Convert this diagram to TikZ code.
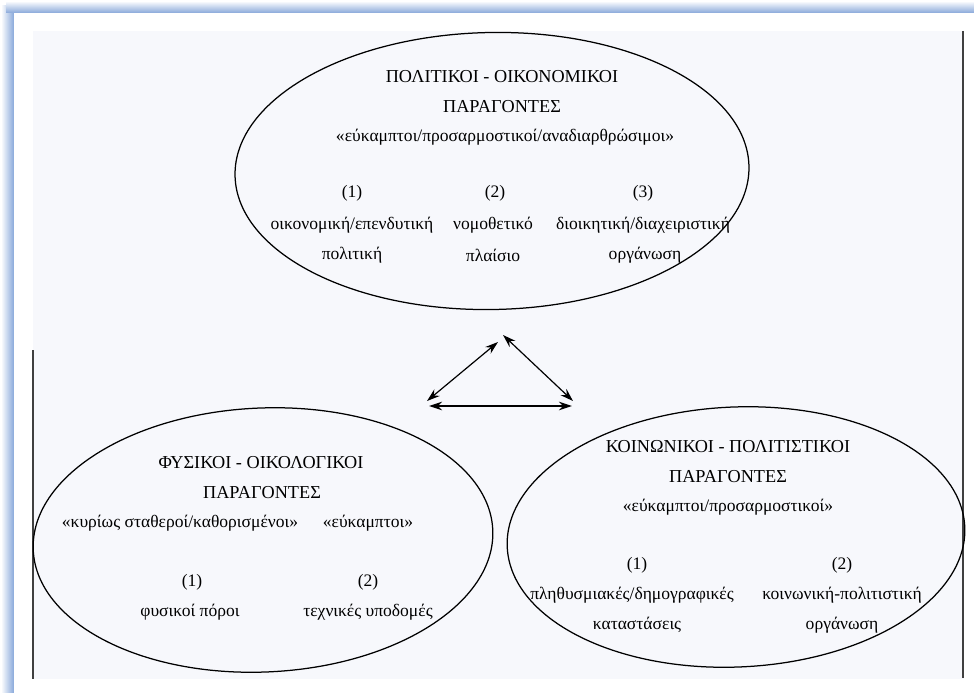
\documentclass[tikz,border=0pt]{standalone}
\usepackage{fontspec}
\setmainfont{Liberation Serif}
\usetikzlibrary{shapes.geometric,arrows.meta}
\definecolor{frameblue}{HTML}{88A8DA}
\definecolor{paper}{HTML}{F7F8FC}
\begin{document}
\begin{tikzpicture}[x=1bp,y=-1bp,
  ring/.style={draw=black,line width=1.25bp,ellipse,inner sep=0pt},
  lbl/.style={font=\fontsize{17.6}{20}\selectfont,inner sep=0pt,anchor=center},
  capslbl/.style={lbl,font=\fontsize{18.3}{20}\selectfont},
  link/.style={line width=1.2bp,{Stealth[length=13bp,width=8.5bp]}-{Stealth[length=13bp,width=8.5bp]}}]
\useasboundingbox (0,0) rectangle (974,693);
\fill[white] (0,0) rectangle (974,693);
% blue frame glow along the left and top edges
\shade[left color=white,right color=frameblue] (1,6) rectangle (14,693);
\shade[top color=white,bottom color=frameblue] (6,1) rectangle (974,13);
\fill[white] (14,13) rectangle (974,693);
% scanned sheet
\fill[paper] (33,31) rectangle (964,679);
\draw[line width=1.2bp,black!75] (33,350) -- (33,679);
\draw[line width=1.2bp,black!75] (963,31) -- (963,678);

% the three groups of factors
\node[ring,minimum width=514bp,minimum height=277bp,rotate=1] (pol) at (492,171) {};
\node[ring,minimum width=460bp,minimum height=264bp,rotate=2.5] (fys) at (263,540) {};
\node[ring,minimum width=458bp,minimum height=260bp,rotate=2.5] (koi) at (736,537) {};

% political - economic
\node[capslbl] (p1) at (502,77) {ΠΟΛΙΤΙΚΟΙ - ΟΙΚΟΝΟΜΙΚΟΙ};
\node[capslbl] (p2) at (502,107) {ΠΑΡΑΓΟΝΤΕΣ};
\node[lbl] (p3) at (505,137) {«εύκαμπτοι/προσαρμοστικοί/αναδιαρθρώσιμοι»};
\node[lbl] (pa1) at (352,193) {(1)};
\node[lbl] (pa2) at (495,193) {(2)};
\node[lbl] (pa3) at (643,193) {(3)};
\node[lbl] (pb1) at (352,225) {οικονομική/επενδυτική};
\node[lbl] (pb2) at (493,225) {νομοθετικό};
\node[lbl] (pb3) at (643,225) {διοικητική/διαχειριστική};
\node[lbl] (pc1) at (352,255) {πολιτική};
\node[lbl] (pc2) at (493,255) {πλαίσιο};
\node[lbl] (pc3) at (645,255) {οργάνωση};

% physical - ecological
\node[capslbl] (f1) at (261,463) {ΦΥΣΙΚΟΙ - ΟΙΚΟΛΟΓΙΚΟΙ};
\node[capslbl] (f2) at (262,493) {ΠΑΡΑΓΟΝΤΕΣ};
\node[lbl] (f3) at (180,523) {«κυρίως σταθεροί/καθορισμένοι»};
\node[lbl] (f4) at (368,523) {«εύκαμπτοι»};
\node[lbl] (fa1) at (192,582) {(1)};
\node[lbl] (fa2) at (368,582) {(2)};
\node[lbl] (fb1) at (190,612) {φυσικοί πόροι};
\node[lbl] (fb2) at (368,612) {τεχνικές υποδομές};

% social - cultural
\node[capslbl] (k1) at (728,447) {ΚΟΙΝΩΝΙΚΟΙ - ΠΟΛΙΤΙΣΤΙΚΟΙ};
\node[capslbl] (k2) at (728,477) {ΠΑΡΑΓΟΝΤΕΣ};
\node[lbl] (k3) at (728,507) {«εύκαμπτοι/προσαρμοστικοί»};
\node[lbl] (ka1) at (637,565) {(1)};
\node[lbl] (ka2) at (842,565) {(2)};
\node[lbl] (kb1) at (632,595) {πληθυσμιακές/δημογραφικές};
\node[lbl] (kb2) at (842,595) {κοινωνική-πολιτιστική};
\node[lbl] (kc1) at (637,625) {καταστάσεις};
\node[lbl] (kc2) at (842,625) {οργάνωση};

% interaction triangle
\coordinate (tl) at (498,342);
\coordinate (bl) at (427,401);
\coordinate (tr) at (503,335);
\coordinate (br) at (573,401);
\coordinate (hl) at (429,406);
\coordinate (hr) at (572,406);
\draw[link] (bl) -- (tl);
\draw[link] (tr) -- (br);
\draw[link] (hl) -- (hr);
\end{tikzpicture}
\end{document}
